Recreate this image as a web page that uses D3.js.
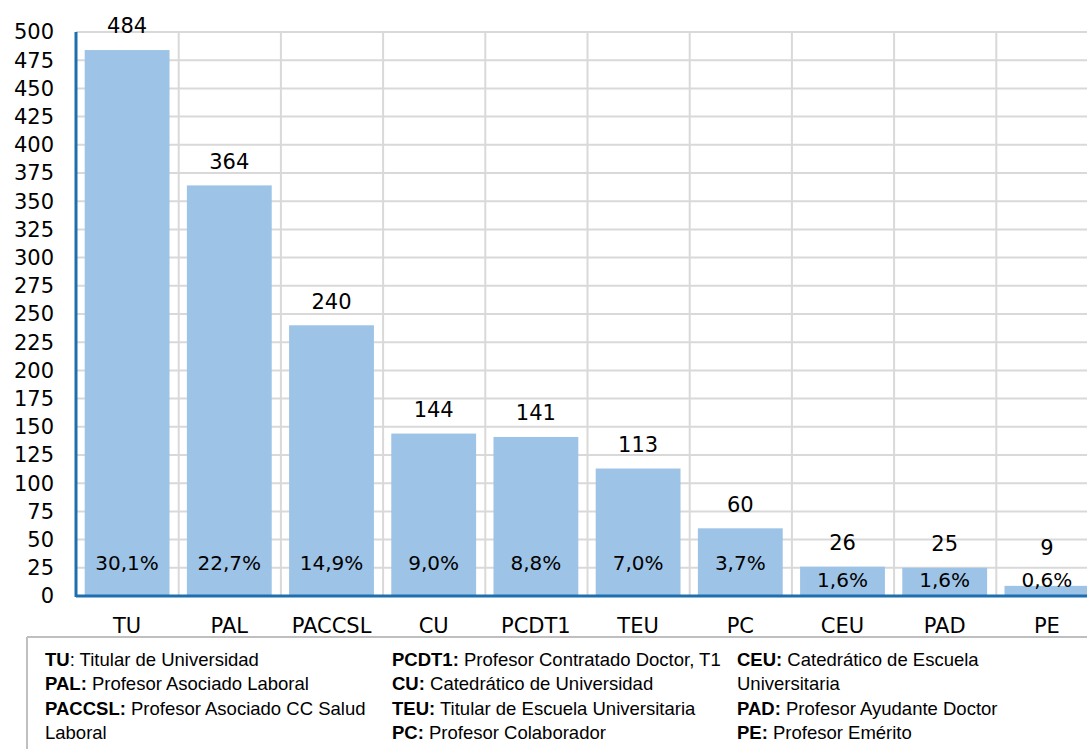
<!DOCTYPE html>
<html>
<head>
    <meta charset="utf-8">
    <script src="https://d3js.org/d3.v7.min.js"></script>
    <style>
        body { margin: 0; background: #fff; }
        svg text { font-family: "DejaVu Sans", "Noto Sans", sans-serif; fill: #000; }
        .legend text { font-family: "Liberation Sans", Arial, sans-serif; font-size: 18.5px; }
    </style>
</head>
<body>
<div id="chart"></div>
<script>
    // categories, counts and percentages
    var categories = ["TU", "PAL", "PACCSL", "CU", "PCDT1", "TEU", "PC", "CEU", "PAD", "PE"];
    var counts = [484, 364, 240, 144, 141, 113, 60, 26, 25, 9];
    var percents = ["30,1%", "22,7%", "14,9%", "9,0%", "8,8%", "7,0%", "3,7%", "1,6%", "1,6%", "0,6%"];
    var yTicks = d3.range(0, 501, 25);

    // legend: three columns, [bold, rest] per line
    var legendCols = [
        [["TU", ": Titular de Universidad"], ["PAL:", " Profesor Asociado Laboral"],
         ["PACCSL:", " Profesor Asociado CC Salud"], ["", "Laboral"]],
        [["PCDT1:", " Profesor Contratado Doctor, T1"], ["CU:", " Catedrático de Universidad"],
         ["TEU:", " Titular de Escuela Universitaria"], ["PC:", " Profesor Colaborador"]],
        [["CEU:", " Catedrático de Escuela"], ["", "Universitaria"],
         ["PAD:", " Profesor Ayudante Doctor"], ["PE:", " Profesor Emérito"]]
    ];

    var W = 1087, H = 749;
    var svg = d3.select("#chart").append("svg").attr("width", W).attr("height", H);

    var plotL = 76, plotR = 1098, plotT = 32, plotB = 596;

    var x = d3.scaleBand().domain(categories).range([plotL, plotR]).paddingInner(0.17).paddingOuter(0.085);
    var y = d3.scaleLinear().domain([0, 500]).range([plotB, plotT]);

    // grid
    var grid = svg.append("g");
    grid.selectAll("line.h").data(yTicks.slice(1)).enter().append("line")
        .attr("x1", plotL).attr("x2", W)
        .attr("y1", function (d) { return y(d); }).attr("y2", function (d) { return y(d); })
        .attr("stroke", "#d9d9d9").attr("stroke-width", 2);
    var step = x.step();
    grid.selectAll("line.v").data(categories).enter().append("line")
        .attr("x1", function (d) { return x(d) + x.bandwidth() + step * 0.085 + 0.5; })
        .attr("x2", function (d) { return x(d) + x.bandwidth() + step * 0.085 + 0.5; })
        .attr("y1", plotT).attr("y2", plotB)
        .attr("stroke", "#d9d9d9").attr("stroke-width", 2);

    // bars
    svg.selectAll("rect.bar").data(counts).enter().append("rect")
        .attr("x", function (d, i) { return x(categories[i]); })
        .attr("y", function (d) { return y(d); })
        .attr("width", x.bandwidth())
        .attr("height", function (d) { return plotB - y(d); })
        .attr("fill", "#9dc3e6");

    // axes (blue lines)
    svg.append("line").attr("x1", plotL).attr("x2", plotL).attr("y1", plotT).attr("y2", plotB + 1)
        .attr("stroke", "#1f6fae").attr("stroke-width", 3);
    svg.append("line").attr("x1", plotL).attr("x2", W).attr("y1", plotB).attr("y2", plotB)
        .attr("stroke", "#1f6fae").attr("stroke-width", 3);

    // y tick labels
    svg.selectAll("text.yt").data(yTicks).enter().append("text")
        .attr("x", 54).attr("y", function (d) { return y(d); })
        .attr("dy", "0.35em").attr("text-anchor", "end")
        .style("font-size", "21px")
        .text(function (d) { return d; });

    // x labels
    svg.selectAll("text.xt").data(categories).enter().append("text")
        .attr("x", function (d) { return x(d) + x.bandwidth() / 2; })
        .attr("y", 626).attr("dy", "0.35em").attr("text-anchor", "middle")
        .style("font-size", "21px")
        .text(function (d) { return d; });

    // value labels
    svg.selectAll("text.val").data(counts).enter().append("text")
        .attr("x", function (d, i) { return x(categories[i]) + x.bandwidth() / 2; })
        .attr("y", function (d) { return d < 15 ? y(d) - 38 : y(d) - 24; })
        .attr("dy", "0.35em").attr("text-anchor", "middle")
        .style("font-size", "21px")
        .text(function (d) { return d; });

    // percentage labels
    svg.selectAll("text.pct").data(percents).enter().append("text")
        .attr("x", function (d, i) { return x(categories[i]) + x.bandwidth() / 2; })
        .attr("y", function (d, i) { return counts[i] < 40 ? 580 : 563; })
        .attr("dy", "0.35em").attr("text-anchor", "middle")
        .style("font-size", "20px")
        .text(function (d) { return d; });

    // legend box
    var lg = svg.append("g").attr("class", "legend");
    lg.append("line").attr("x1", 27).attr("x2", W).attr("y1", 637).attr("y2", 637)
        .attr("stroke", "#bfbfbf").attr("stroke-width", 2);
    lg.append("line").attr("x1", 27).attr("x2", 27).attr("y1", 637).attr("y2", H)
        .attr("stroke", "#bfbfbf").attr("stroke-width", 2);
    var colX = [45, 392, 737];
    legendCols.forEach(function (col, ci) {
        col.forEach(function (row, ri) {
            var t = lg.append("text").attr("x", colX[ci]).attr("y", 666 + ri * 24.3);
            t.append("tspan").style("font-weight", "bold").text(row[0]);
            t.append("tspan").text(row[1]);
        });
    });
</script>
</body>
</html>
